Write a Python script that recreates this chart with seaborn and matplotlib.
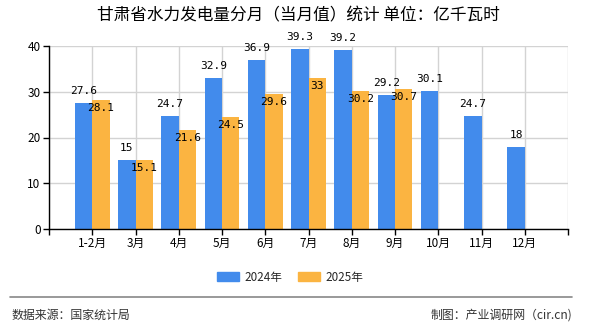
import matplotlib
matplotlib.use("Agg")
import matplotlib.pyplot as plt
import seaborn as sns
import pandas as pd
import numpy as np
from matplotlib.lines import Line2D

months = ["1-2月", "3月", "4月", "5月", "6月", "7月", "8月", "9月", "10月", "11月", "12月"]
v2024 = [27.6, 15, 24.7, 32.9, 36.9, 39.3, 39.2, 29.2, 30.1, 24.7, 18]
v2025 = [28.1, 15.1, 21.6, 24.5, 29.6, 33, 30.2, 30.7, None, None, None]
series = ["2024年", "2025年"]
colors = ["#428BEC", "#FBB441"]
yticks = [0, 10, 20, 30, 40]

sns.set_theme(style="white")
plt.rcParams['font.family'] = ['Noto Sans CJK SC', 'DejaVu Sans']

rows = []
for m, a, b in zip(months, v2024, v2025):
    rows.append({"month": m, "series": series[0], "value": a})
    rows.append({"month": m, "series": series[1], "value": (np.nan if b is None else b)})
df = pd.DataFrame(rows)

fig = plt.figure(figsize=(5.9, 3.3), dpi=100)
ax = fig.add_axes([49/590, 1 - 229/330, (568 - 49)/590, (229 - 46)/330])

sns.barplot(data=df, x="month", y="value", hue="series", order=months,
            hue_order=series, palette=colors, width=0.8, saturation=1,
            linewidth=0, ax=ax, legend=False)

ax.set_xlim(-1, len(months))
ax.set_ylim(0, 40)
ax.set_yticks(yticks)
ax.set_xticks(np.arange(-1, len(months) + 1))
ax.set_xticklabels([""] + months + [""])
ax.set_xlabel("")
ax.set_ylabel("")

ax.grid(True, axis="both", color="#d3d3d3", linewidth=1)
ax.set_axisbelow(True)
for s in ["top", "right"]:
    ax.spines[s].set_visible(False)
for s in ["left", "bottom"]:
    ax.spines[s].set_color("black")
    ax.spines[s].set_linewidth(1)
ax.tick_params(axis="both", which="both", direction="out", length=4, width=1,
               color="black", labelsize=8.5, labelcolor="black", pad=2,
               left=True, bottom=True)

# value labels
for ci, cont in enumerate(ax.containers):
    for rect in cont:
        h = rect.get_height()
        if h is None or np.isnan(h):
            continue
        x = rect.get_x() + rect.get_width() / 2
        dy = 12 if ci == 0 else -8
        lbl = f"{h:g}"
        ax.annotate(lbl, (x, h), xytext=(0, dy), textcoords="offset pixels",
                    ha="center", va="center", fontsize=8,
                    family="DejaVu Sans Mono", color="black")

# title
fig.text(0.505, 1 - 16/330, "甘肃省水力发电量分月（当月值）统计 单位：亿千瓦时",
         ha="center", va="center", fontsize=12, color="black")

# legend
handles = [plt.Rectangle((0, 0), 1, 1, color=c) for c in colors]
fig.legend(handles, series, loc="center", bbox_to_anchor=(290/590, 1 - 277/330),
           ncol=2, frameon=False, fontsize=8.4, handlelength=1.9,
           handleheight=0.7, handletextpad=0.45, columnspacing=1.3)

# footer
fig.add_artist(Line2D([10/590, 572/590], [1 - 297/330, 1 - 297/330],
                      color="#888888", linewidth=1.2, transform=fig.transFigure))
fig.text(12/590, 1 - 315/330, "数据来源：国家统计局", ha="left", va="center",
         fontsize=8.6, color="#333333")
fig.text(572/590, 1 - 315/330, "制图：产业调研网（cir.cn)", ha="right", va="center",
         fontsize=8.6, color="#333333")

fig.savefig("out.png", dpi=100)
